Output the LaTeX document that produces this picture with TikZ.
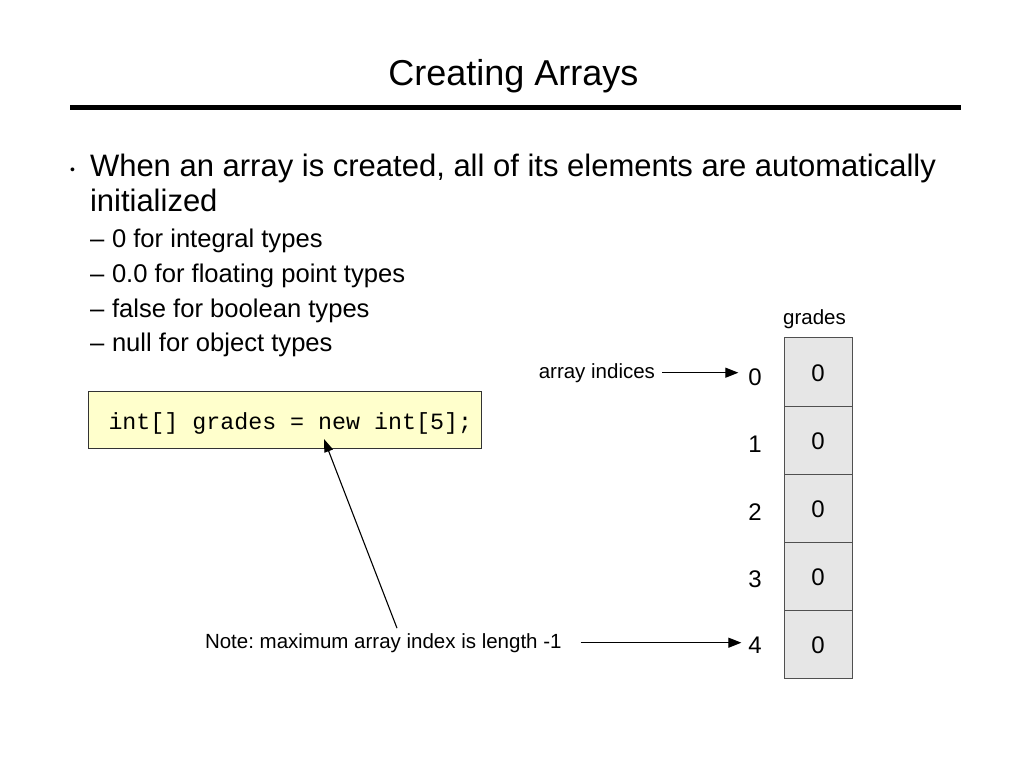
\documentclass[tikz,border=0pt]{standalone}
\usepackage{fontspec}
\setmainfont{Liberation Sans}
\setmonofont{Liberation Mono}
\usetikzlibrary{arrows.meta}
\frenchspacing
\definecolor{codefill}{RGB}{255,255,204}
\definecolor{cellfill}{RGB}{230,230,230}
\definecolor{cellline}{RGB}{80,80,80}
\tikzset{
  txt/.style={inner sep=0pt, outer sep=0pt},
  ttl/.style={txt, font=\fontsize{36}{40}\selectfont, anchor=base},
  lvlone/.style={txt, font=\fontsize{31}{36}\selectfont, anchor=base west},
  lvltwo/.style={txt, font=\fontsize{25.6}{30}\selectfont, anchor=base west},
  lbl/.style={txt, font=\fontsize{20.5}{24}\selectfont},
  idx/.style={txt, font=\fontsize{24}{28}\selectfont, anchor=base},
  cell/.style={draw=cellline, line width=1pt, fill=cellfill, minimum width=68pt,
    minimum height=68pt, inner sep=0pt, text height=19pt, text depth=0pt,
    font=\fontsize{24}{28}\selectfont},
  codebox/.style={draw=black!80, line width=1pt, fill=codefill, anchor=north west,
    minimum height=57pt, text width=383pt, inner xsep=5pt, inner ysep=0pt,
    text height=19pt, text depth=0pt, align=left,
    font=\ttfamily\fontsize{23.3}{26}\selectfont},
  arr/.style={line width=1.2pt, -{Triangle[length=13pt,width=10pt]}},
  diag/.style={line width=1.1pt, -{Triangle[length=13pt,width=9pt]}},
}
\begin{document}
\begin{tikzpicture}[x=1pt,y=-1pt]
\fill[white] (0,0) rectangle (1023,767);
\useasboundingbox (0,0) rectangle (1023,767);

% title and rule
\node[ttl] (title) at (513.5,86) {Creating Arrays};
\coordinate (ruleL) at (70,107.5);
\coordinate (ruleR) at (961,107.5);
\draw[line width=5pt] (ruleL) -- (ruleR);

% bullets
\node[txt, font=\fontsize{14}{16}\selectfont, anchor=base west] (bul) at (70,175) {•};
\node[lvlone] (l1) at (90,177) {When an array is created, all of its elements are automatically};
\node[lvlone] (l2) at (90,212) {initialized};
\foreach \yy/\tx [count=\k] in {248/0 for integral types, 283/0.0 for floating point types,
    317.5/false for boolean types, 352/null for object types}{
  \node[lvltwo] (d\k) at (90,\yy) {–};
  \node[lvltwo] (s\k) at (112,\yy) {\tx};
}

% code box
\node[codebox] (code) at (88,391) {\spaceskip=0pt\xspaceskip=0pt\hspace*{15pt}\mbox{int[] grades = new int[5];}};

% array
\node[lbl, anchor=base] (gr) at (814.5,325) {grades};
\foreach \k in {0,...,4}{
  \node[cell] (c\k) at (818,372+68*\k) {0};
}
\node[idx] (i0) at (755,385) {0};
\node[idx] (i1) at (755,452) {1};
\node[idx] (i2) at (755,520) {2};
\node[idx] (i3) at (755,587) {3};
\node[idx] (i4) at (755,653) {4};

% labels and arrows
\node[lbl, anchor=base east] (ai) at (655,378) {array indices};
\draw[arr] ([xshift=7pt]ai.east) -- ([xshift=-10pt]i0.west |- ai.east);

\node[lbl, anchor=base west] (note) at (205,648) {Note: maximum array index is length -1};
\draw[arr] ([xshift=19pt]note.east) -- ([xshift=-7pt]i4.west |- note.east);

\draw[diag] ([xshift=192pt,yshift=5pt]note.north west) -- ([xshift=236pt,yshift=10pt]code.south west);
\end{tikzpicture}
\end{document}
